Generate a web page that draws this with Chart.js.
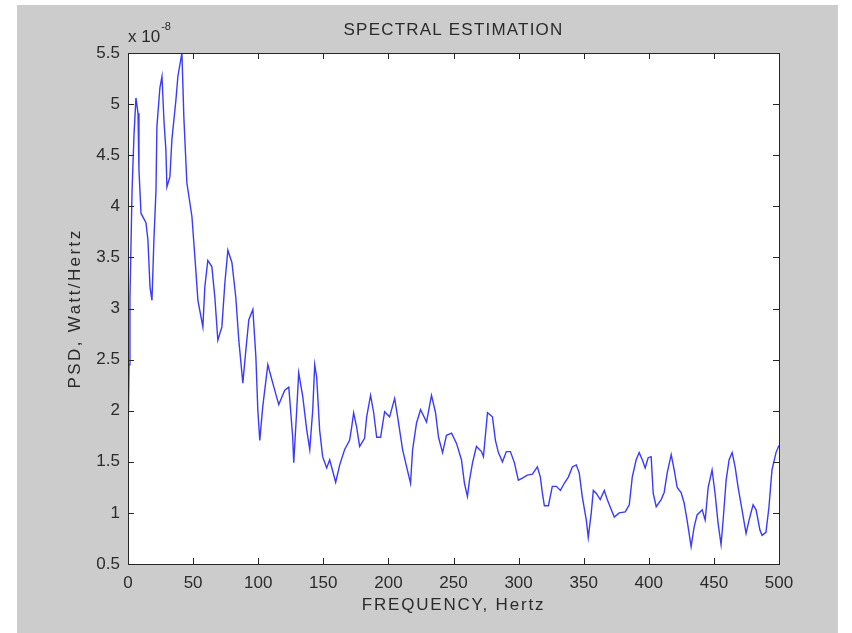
<!DOCTYPE html>
<html>
<head>
<meta charset="utf-8">
<title>Spectral estimation</title>
<script src="https://cdn.jsdelivr.net/npm/chart.js@4.4.1/dist/chart.umd.min.js"></script>
<style>
  body { margin: 0; background: #ffffff; }
  canvas { display: block; }
</style>
</head>
<body>
<canvas id="psd_chart" width="852" height="633"></canvas>
<script>
// PSD estimate, frequency in Hz, power in units of 1e-8 W/Hz
var freq = [
  0.0, 0.8, 1.5, 3.1, 4.6, 6.1, 7.7, 8.4, 10.0, 13.8, 15.3, 16.9, 18.4, 19.9,
  21.5, 22.2, 24.5, 26.1, 27.6, 29.1, 29.9, 32.2, 33.7, 36.8, 38.3, 41.4, 42.9,
  45.2, 49.1, 51.4, 53.7, 57.5, 59.0, 61.3, 64.4, 66.7, 69.0, 72.1, 74.4, 76.7,
  79.8, 82.8, 85.1, 88.2, 90.5, 92.8, 95.9, 98.2, 99.7, 101.2, 103.5, 107.4,
  111.2, 115.8, 120.4, 123.5, 126.5, 127.3, 129.6, 131.1, 134.2, 137.3, 139.6,
  141.9, 143.4, 144.9, 147.2, 149.5, 152.6, 154.9, 159.5, 162.6, 166.4, 170.2,
  171.8, 173.3, 175.6, 177.9, 181.7, 183.3, 186.3, 188.7, 191.0, 194.0, 197.1,
  200.9, 204.8, 207.1, 210.9, 214.0, 217.0, 218.6, 221.6, 224.7, 229.3, 233.1,
  236.2, 238.5, 241.6, 244.6, 248.5, 252.3, 256.1, 258.4, 260.7, 262.3, 264.6,
  267.6, 271.5, 273.0, 276.1, 279.9, 282.2, 284.5, 287.6, 290.6, 293.7, 296.8,
  299.8, 302.9, 306.7, 310.6, 314.4, 316.7, 318.3, 319.8, 322.9, 325.9, 329.0,
  332.1, 335.1, 338.2, 341.3, 344.3, 346.6, 348.9, 352.0, 353.5, 355.8, 357.4,
  359.7, 362.7, 365.8, 368.1, 371.2, 373.5, 377.3, 381.9, 385.0, 387.3, 390.3,
  392.6, 395.0, 397.2, 399.5, 401.8, 403.4, 405.7, 409.5, 411.8, 414.1, 417.2,
  419.5, 421.8, 424.8, 427.1, 429.4, 432.5, 434.8, 437.1, 441.0, 443.3, 445.6,
  448.6, 450.9, 453.2, 455.5, 457.1, 459.4, 461.7, 464.0, 466.3, 468.6, 471.6,
  474.7, 477.0, 480.1, 482.4, 485.4, 487.0, 490.0, 492.3, 494.6, 497.7, 500.0
];
var psd = [
  1.65, 2.45, 3.10, 4.15, 4.70, 5.06, 4.91, 4.36, 3.93, 3.84, 3.67, 3.21, 3.08, 3.67,
  4.16, 4.78, 5.16, 5.27, 4.84, 4.55, 4.19, 4.29, 4.65, 5.04, 5.27, 5.50, 4.87,
  4.23, 3.90, 3.50, 3.08, 2.82, 3.21, 3.47, 3.41, 3.11, 2.69, 2.82, 3.25, 3.57,
  3.45, 3.11, 2.69, 2.27, 2.59, 2.89, 2.99, 2.53, 2.01, 1.71, 2.04, 2.45,
  2.27, 2.06, 2.20, 2.23, 1.74, 1.49, 2.01, 2.37, 2.14, 1.81, 1.62,
  2.01, 2.45, 2.33, 1.81, 1.55, 1.44, 1.52, 1.30, 1.47, 1.62, 1.71,
  1.84, 1.98, 1.84, 1.65, 1.73, 1.94, 2.15, 1.98, 1.74, 1.74, 1.99,
  1.94, 2.12, 1.94, 1.62, 1.45, 1.29, 1.62, 1.88, 2.01, 1.89, 2.15,
  1.98, 1.74, 1.59, 1.76, 1.78, 1.68, 1.52, 1.29, 1.16, 1.32, 1.49,
  1.65, 1.60, 1.55, 1.98, 1.94, 1.71, 1.59, 1.50, 1.60, 1.60, 1.49,
  1.32, 1.34, 1.37, 1.38, 1.45, 1.35, 1.19, 1.07, 1.07, 1.26, 1.26,
  1.22, 1.29, 1.35, 1.45, 1.47, 1.39, 1.16, 0.93, 0.76, 1.00, 1.22,
  1.19, 1.13, 1.22, 1.13, 1.03, 0.96, 1.00, 1.01, 1.08, 1.35, 1.52,
  1.59, 1.52, 1.44, 1.54, 1.55, 1.19, 1.06, 1.13, 1.20, 1.39, 1.57,
  1.42, 1.25, 1.20, 1.10, 0.93, 0.67, 0.86, 0.98, 1.03, 0.93, 1.25,
  1.42, 1.19, 0.90, 0.69, 0.93, 1.32, 1.52, 1.59, 1.45, 1.25, 1.03,
  0.80, 0.93, 1.08, 1.03, 0.83, 0.78, 0.81, 1.06, 1.42, 1.59, 1.66
];

var xTicks = [0, 50, 100, 150, 200, 250, 300, 350, 400, 450, 500];
var yTicks = [0.5, 1, 1.5, 2, 2.5, 3, 3.5, 4, 4.5, 5, 5.5];

var titleText = 'SPECTRAL ESTIMATION';
var xLabel = 'FREQUENCY, Hertz';
var yLabel = 'PSD, Watt/Hertz';

var points = [];
for (var i = 0; i < freq.length; i++) {
  points.push({ x: freq[i], y: psd[i] });
}

var textColor = '#2b2b2b';
var fontFamily = '"Liberation Sans", Arial, Helvetica, sans-serif';

// figure background, white axes, box with inward ticks, labels
var matlabAxes = {
  id: 'matlabAxes',
  beforeDraw: function(chart) {
    var ctx = chart.ctx;
    var a = chart.chartArea;
    ctx.save();
    ctx.fillStyle = '#ffffff';
    ctx.fillRect(0, 0, chart.width, chart.height);
    ctx.fillStyle = '#cccccc';
    ctx.fillRect(17, 5, 821, chart.height - 5);
    ctx.fillStyle = '#ffffff';
    ctx.fillRect(a.left, a.top, a.right - a.left, a.bottom - a.top);
    ctx.restore();
  },
  afterDraw: function(chart) {
    var ctx = chart.ctx;
    var a = chart.chartArea;
    var xs = chart.scales.x;
    var ys = chart.scales.y;
    var t = 6;
    var cx = (a.left + a.right) / 2;
    var cy = (a.top + a.bottom) / 2;
    ctx.save();
    ctx.strokeStyle = '#262626';
    ctx.lineWidth = 1;
    ctx.beginPath();
    xTicks.forEach(function(v) {
      var px = Math.round(xs.getPixelForValue(v)) + 0.5;
      ctx.moveTo(px, a.bottom); ctx.lineTo(px, a.bottom - t);
      ctx.moveTo(px, a.top); ctx.lineTo(px, a.top + t);
    });
    yTicks.forEach(function(v) {
      var py = Math.round(ys.getPixelForValue(v)) + 0.5;
      ctx.moveTo(a.left, py); ctx.lineTo(a.left + t, py);
      ctx.moveTo(a.right, py); ctx.lineTo(a.right - t, py);
    });
    ctx.stroke();
    ctx.strokeRect(Math.round(a.left) + 0.5, Math.round(a.top) + 0.5,
      Math.round(a.right - a.left), Math.round(a.bottom - a.top));

    ctx.fillStyle = textColor;
    ctx.textBaseline = 'middle';
    ctx.font = '17px ' + fontFamily;

    // exponent of the y axis
    ctx.textAlign = 'left';
    ctx.fillText('x 10', a.left, 37);
    var w = ctx.measureText('x 10').width;
    ctx.font = '11px ' + fontFamily;
    ctx.fillText('-8', a.left + w + 1, 27);

    ctx.font = '17px ' + fontFamily;
    ctx.textAlign = 'center';
    ctx.letterSpacing = '1.2px';
    ctx.fillText(titleText, cx, 30);
    ctx.letterSpacing = '1.8px';
    ctx.fillText(xLabel, cx, 605);
    ctx.translate(75, cy);
    ctx.rotate(-Math.PI / 2);
    ctx.letterSpacing = '2.4px';
    ctx.fillText(yLabel, 0, 0);
    ctx.restore();
  }
};

var ctx = document.getElementById('psd_chart');

var psdChart = new Chart(ctx, {
  type: 'line',
  data: {
    datasets: [{
      label: 'PSD',
      data: points,
      borderColor: '#3a3aff',
      borderWidth: 1.4,
      pointRadius: 0,
      tension: 0,
      fill: false
    }]
  },
  options: {
    responsive: false,
    animation: false,
    events: [],
    layout: { padding: { left: 0, right: 73, top: 53, bottom: 0 } },
    plugins: {
      legend: { display: false },
      tooltip: { enabled: false },
      title: { display: false }
    },
    scales: {
      x: {
        type: 'linear',
        min: 0,
        max: 500,
        afterBuildTicks: function(scale) {
          scale.ticks = xTicks.map(function(v) { return { value: v }; });
        },
        afterFit: function(scale) { scale.height = 69; },
        grid: { display: false, drawTicks: false },
        border: { display: false },
        ticks: {
          color: textColor,
          font: { family: fontFamily, size: 17 },
          padding: 9,
          maxRotation: 0,
          callback: function(v) { return String(v); }
        }
      },
      y: {
        type: 'linear',
        min: 0.5,
        max: 5.5,
        afterBuildTicks: function(scale) {
          scale.ticks = yTicks.map(function(v) { return { value: v }; });
        },
        afterFit: function(scale) { scale.width = 128; },
        grid: { display: false, drawTicks: false },
        border: { display: false },
        ticks: {
          color: textColor,
          font: { family: fontFamily, size: 17 },
          padding: 8,
          callback: function(v) { return String(v); }
        }
      }
    }
  },
  plugins: [matlabAxes]
});
</script>
</body>
</html>
